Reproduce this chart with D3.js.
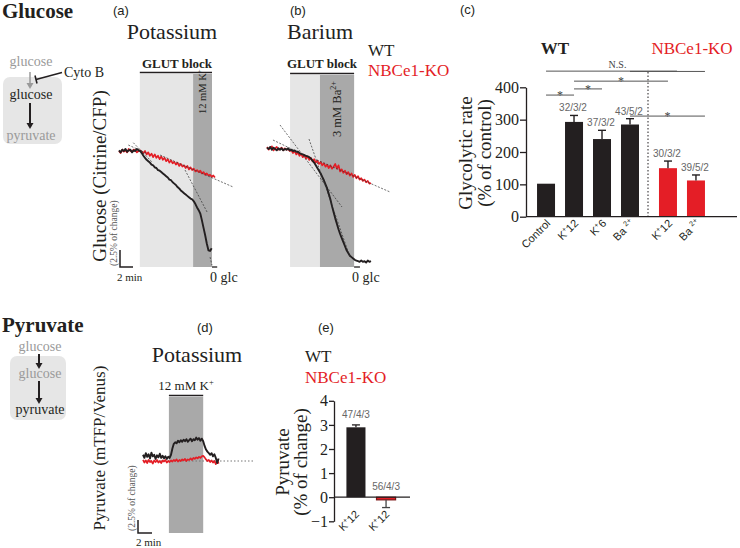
<!DOCTYPE html>
<html><head><meta charset="utf-8">
<script src="https://cdn.jsdelivr.net/npm/d3@7/dist/d3.min.js"></script>
<style>body{margin:0;background:#fff}svg{display:block}</style>
</head><body>
<script>
// ---------------- DATA ----------------
// (a) Glucose sensor trace, % change, sampled every 0.25 min
const dtGlc = 0.25;
const glucoseA_WT = [0.1,-0.2,0.2,0.0,0.3,-0.1,0.1,0.2,-0.2,0.1,0.0,0.3,0.1,0.0,-0.3,-0.7,-1.0,-1.3,-1.5,-1.7,-2.0,-2.1,-2.4,-2.5,-2.8,-2.9,-3.1,-3.3,-3.5,-3.7,-3.9,-4.2,-4.3,-4.6,-4.8,-5.0,-5.3,-5.5,-5.8,-6.0,-6.2,-6.4,-6.6,-6.8,-7.0,-7.1,-7.4,-7.8,-8.3,-8.7,-9.2,-10.2,-11.3,-12.4,-13.6,-14.6,-14.7,-14.3];
const glucoseA_KO = [0.0,-0.3,0.2,-0.1,0.1,-0.2,0.3,0.0,-0.1,0.2,0.1,-0.2,0.0,0.1,-0.1,-0.3,0.0,-0.5,-0.2,-0.7,-0.4,-0.9,-0.5,-1.0,-0.7,-1.2,-0.8,-1.3,-1.0,-1.5,-1.2,-1.7,-1.4,-1.8,-1.6,-2.0,-1.7,-2.2,-1.9,-2.3,-2.1,-2.5,-2.2,-2.7,-2.4,-2.8,-2.6,-3.0,-2.8,-3.1,-2.9,-3.3,-3.1,-3.5,-3.3,-3.6,-3.5,-3.8,-3.6,-3.9];
const glutBlockA = [3.2, 14.3];
const kStimA = [11.4, 14.3];
const fitLinesA = [[1.43,0.88,4.26,-0.34],[2.2,1.22,5.03,-1.57],[6.31,-0.59,17.54,-5.29],[10.15,-2.79,13.54,-8.97],[14.0,-15.6,14.3,-16.8]];
// (b)
const glucoseB_WT = [0.2,0.0,0.3,-0.1,0.2,0.0,-0.2,0.1,-0.1,0.1,-0.2,0.0,-0.1,0.1,-0.2,-0.1,-0.3,-0.2,-0.4,-0.4,-0.6,-0.7,-0.8,-0.9,-1.0,-1.1,-1.2,-1.4,-1.7,-2.0,-2.4,-2.8,-3.2,-3.6,-4.1,-4.6,-5.2,-5.8,-6.6,-7.4,-8.4,-9.3,-10.2,-11.0,-11.8,-12.5,-13.1,-13.7,-14.3,-14.9,-15.3,-15.7,-15.9,-16.1,-16.3,-16.4,-16.5,-16.6,-16.4,-16.6,-16.5,-16.7,-16.4,-16.6,-16.5];
const glucoseB_KO = [0.3,-0.1,0.2,0.4,-0.2,0.1,0.3,-0.1,0.0,0.2,-0.2,0.1,-0.1,0.0,-0.3,-0.2,-0.6,-0.3,-0.8,-0.5,-1.0,-0.7,-1.2,-0.9,-1.4,-1.1,-1.6,-1.3,-1.8,-1.5,-2.0,-1.7,-2.2,-1.9,-2.4,-2.1,-2.6,-2.3,-2.8,-2.4,-2.9,-2.6,-2.2,-2.9,-2.4,-3.3,-3.0,-3.5,-3.2,-3.7,-3.4,-3.9,-3.6,-4.1,-3.8,-4.3,-4.0,-4.5,-4.3,-4.7,-4.5,-4.9,-4.7,-5.1,-5.0];
const glutBlockB = [3.55, 13.4];
const baStimB = [8.15, 13.4];
const fitLinesB = [[2.0,3.53,11.54,-8.53],[0.92,1.32,5.08,-0.59],[6.46,1.47,12.77,-15.9],[7.69,-1.62,18.92,-6.32]];
// (c) Glycolytic rate
const rateCategories = ["Control","WT K12","WT K6","WT Ba","KO K12","KO Ba"];
const rateGroups = ["WT","WT","WT","WT","KO","KO"];
const rateValues = [102, 293, 240, 285, 150, 112];
const rateErrors = [0, 20, 27, 18, 22, 17];
const rateN = ["", "32/3/2", "37/3/2", "43/5/2", "30/3/2", "39/5/2"];
const rateTickLabels = [[["Control",0]],[["K",0],["+",1],["12",0]],[["K",0],["+",1],["6",0]],[["Ba ",0],["2+",1]],[["K",0],["+",1],["12",0]],[["Ba ",0],["2+",1]]];
const rateTicks = [0,100,200,300,400];
const rateSig = [["Control","KO K12",450,"N.S.",1],["WT Ba","KO Ba",449,"",1],["WT K12","KO K12",419,"*",0],["Control","WT K12",376,"*",0],["WT K12","WT K6",395,"*",0],["WT Ba","KO Ba",311,"*",1]];
// (d) Pyruvate trace, sampled every 0.2 min
const dtPyr = 0.2;
const pyruvateD_WT = [1.2,0.6,1.5,0.8,1.3,0.5,1.6,0.9,1.2,0.4,1.1,0.7,1.4,0.6,1.0,0.5,0.9,0.4,0.8,0.6,1.2,2.4,3.3,3.6,3.4,3.9,3.6,4.0,3.7,4.1,3.8,4.2,3.7,4.0,4.3,3.8,4.2,4.0,4.5,4.1,4.4,3.9,4.3,3.8,2.9,2.2,1.8,1.5,1.2,1.5,0.9,1.3,0.6,-0.4,0.5];
const pyruvateD_KO = [0.2,-0.3,0.1,-0.4,0.2,-0.2,0.0,-0.5,0.1,-0.2,0.2,-0.3,0.0,-0.4,0.1,-0.1,0.2,-0.3,0.0,-0.2,0.1,-0.1,0.2,0.0,0.3,-0.1,0.2,0.0,0.3,0.1,0.4,0.0,0.3,0.2,0.5,0.2,0.6,0.4,0.7,0.5,0.8,0.6,0.9,1.0,0.7,0.3,0.0,0.2,-0.2,0.1,-0.3,0.0,-0.6,0.2,-0.5];
const kStimD = [3.7, 8.6];
// (e) Pyruvate bars
const pyrCategories = ["WT K12","KO K12"];
const pyrValues = [2.9, -0.11];
const pyrErrors = [0.1, 0.32];
const pyrN = ["47/4/3","56/4/3"];
const pyrTicks = [-1,0,1,2,3,4];

// ---------------- DRAW ----------------
const BLACK="#231f20", RED="#e41e26", GRAY_L="#e6e6e6", GRAY_D="#a9a9a9";
const SERIF='"Liberation Serif","Times New Roman",serif', SANS='"Liberation Sans",Arial,sans-serif';
const svg = d3.select("body").append("svg").attr("width",740).attr("height",548);

function T(g,x,y,s,o={}){
  const t=g.append("text").attr("x",x).attr("y",y).text(s)
    .attr("font-family",o.ff||SERIF).attr("font-size",o.fs||14).attr("fill",o.fill||BLACK)
    .attr("text-anchor",o.anchor||"start");
  if(o.fw) t.attr("font-weight",o.fw);
  if(o.rot!=null) t.attr("transform",`rotate(${o.rot},${x},${y})`);
  return t;
}
function rich(g,x,y,parts,o={}){
  const fs=o.fs||12;
  const t=g.append("text").attr("font-family",o.ff||SERIF).attr("font-size",fs).attr("fill",o.fill||BLACK)
    .attr("text-anchor",o.anchor||"start")
    .attr("transform",`translate(${x},${y}) rotate(${o.rot||0})`);
  let up=false;
  parts.forEach(([s,sup])=>{
    const ts=t.append("tspan").text(s);
    if(sup){ts.attr("dy",-fs*0.4).attr("font-size",fs*0.65);up=true;}
    else if(up){ts.attr("dy",fs*0.4);up=false;}
  });
  return t;
}
function arrowV(g,x,y1,y2,col,w){
  g.append("line").attr("x1",x).attr("x2",x).attr("y1",y1).attr("y2",y2-4).attr("stroke",col).attr("stroke-width",w);
  g.append("path").attr("d",`M${x-3.5},${y2-6}L${x+3.5},${y2-6}L${x},${y2}Z`).attr("fill",col);
}

// Titles
T(svg,2,18,"Glucose",{fs:21,fw:"bold"});
T(svg,2,332,"Pyruvate",{fs:21,fw:"bold"});

// Top schematic
const s1=svg.append("g");
s1.append("rect").attr("x",3).attr("y",77).attr("width",59).attr("height",67).attr("rx",7).attr("fill",GRAY_L);
T(s1,31,66,"glucose",{fs:14,fill:"#9a9a9a",anchor:"middle"});
arrowV(s1,30,72,89,"#9a9a9a",1.5);
T(s1,31,99,"glucose",{fs:14,anchor:"middle"});
arrowV(s1,30,103,129,BLACK,2);
T(s1,31,140,"pyruvate",{fs:14,fill:"#9a9a9a",anchor:"middle"});
T(s1,64,77,"Cyto B",{fs:14});
s1.append("line").attr("x1",62).attr("y1",72.5).attr("x2",36).attr("y2",79.5).attr("stroke",BLACK).attr("stroke-width",1.4);
s1.append("line").attr("x1",35).attr("y1",75.5).attr("x2",37).attr("y2",83.5).attr("stroke",BLACK).attr("stroke-width",1.6);

// Bottom schematic
const s2=svg.append("g");
s2.append("rect").attr("x",10).attr("y",356).attr("width",56).attr("height",64).attr("rx",7).attr("fill",GRAY_L);
T(s2,40,351,"glucose",{fs:14,fill:"#9a9a9a",anchor:"middle"});
arrowV(s2,39,354,369,BLACK,2);
T(s2,40,378,"glucose",{fs:14,fill:"#9a9a9a",anchor:"middle"});
arrowV(s2,39,381,404,BLACK,2);
T(s2,40,414,"pyruvate",{fs:14,anchor:"middle"});

// Generic trace panel
function tracePanel(cfg){
  const g=svg.append("g");
  const x=d3.scaleLinear().domain(cfg.xd).range(cfg.xr);
  const y=d3.scaleLinear().domain(cfg.yd).range(cfg.yr);
  cfg.bands.forEach(b=>{
    g.append("rect").attr("x",x(b.t[0])).attr("width",x(b.t[1])-x(b.t[0]))
     .attr("y",cfg.top).attr("height",cfg.bottom-cfg.top).attr("fill",b.c);
  });
  if(cfg.barLine){
    g.append("line").attr("x1",x(cfg.barLine[0])).attr("x2",x(cfg.barLine[1]))
     .attr("y1",cfg.top-1.5).attr("y2",cfg.top-1.5).attr("stroke",BLACK).attr("stroke-width",1.5);
  }
  if(cfg.dotted){
    g.append("line").attr("x1",x(cfg.dotted[0])).attr("x2",x(cfg.dotted[1])).attr("y1",y(0)).attr("y2",y(0))
     .attr("stroke","#777").attr("stroke-width",1).attr("stroke-dasharray","1.5,2");
  }
  const line=d3.line().x((d,i)=>x(i*cfg.dt)).y(d=>y(d));
  g.append("path").datum(cfg.ko).attr("d",line).attr("fill","none").attr("stroke",RED).attr("stroke-width",1.7).attr("stroke-linejoin","round");
  g.append("path").datum(cfg.wt).attr("d",line).attr("fill","none").attr("stroke",BLACK).attr("stroke-width",1.9).attr("stroke-linejoin","round");
  (cfg.fits||[]).forEach(f=>{
    g.append("line").attr("x1",x(f[0])).attr("y1",y(f[1])).attr("x2",x(f[2])).attr("y2",y(f[3]))
     .attr("stroke","#333").attr("stroke-width",0.7).attr("stroke-dasharray","2,1.5");
  });
  return {g,x,y};
}

// (a)
T(svg,113,15,"(a)",{ff:SANS,fs:13});
T(svg,172,39,"Potassium",{fs:22,anchor:"middle",fill:"#222"});
const pa=tracePanel({xd:[0,14.3],xr:[119,212],yd:[0,-17],yr:[151,266.6],dt:dtGlc,wt:glucoseA_WT,ko:glucoseA_KO,
  top:74,bottom:267,bands:[{t:glutBlockA,c:GRAY_L},{t:kStimA,c:GRAY_D}],barLine:glutBlockA,fits:fitLinesA});
T(svg,177,68,"GLUT block",{fs:13,fw:"bold",anchor:"middle"});
rich(svg,206,114,[["12 mM K",0],["+",1]],{fs:10.5,rot:-90});
// scale bar (a)
{
  const x0=120,y0=267, wx=pa.x(2)-pa.x(0), hy=pa.y(-2.5)-pa.y(0);
  svg.append("path").attr("d",`M${x0},${y0-hy}V${y0}H${x0+wx}`).attr("fill","none").attr("stroke",BLACK).attr("stroke-width",1.5);
  T(svg,117,281,"2 min",{fs:11});
  T(svg,117,266,"(2.5% of change)",{fs:9.5,fill:"#555",rot:-90});
  svg.append("line").attr("x1",pa.x(14.3)).attr("x2",pa.x(15.1)).attr("y1",267).attr("y2",267).attr("stroke",BLACK).attr("stroke-width",1.3);
  T(svg,210,282,"0 glc",{fs:14});
}
T(svg,106,176,"Glucose (Citrine/CFP)",{fs:19,anchor:"middle",rot:-90});

// (b)
T(svg,290,15,"(b)",{ff:SANS,fs:13});
T(svg,287,39,"Barium",{fs:22,fill:"#222"});
const pb=tracePanel({xd:[0,16],xr:[267,371],yd:[0,-17],yr:[149,264.6],dt:dtGlc,wt:glucoseB_WT,ko:glucoseB_KO,
  top:75,bottom:267,bands:[{t:glutBlockB,c:GRAY_L},{t:baStimB,c:GRAY_D}],barLine:glutBlockB,fits:fitLinesB});
T(svg,322,68,"GLUT block",{fs:13,fw:"bold",anchor:"middle"});
rich(svg,341,137,[["3 mM Ba",0],["2+",1]],{fs:12.5,rot:-90});
svg.append("line").attr("x1",pb.x(13.4)).attr("x2",pb.x(14.3)).attr("y1",267).attr("y2",267).attr("stroke",BLACK).attr("stroke-width",1.3);
T(svg,352,282,"0 glc",{fs:14});
// legend top
T(svg,368,56,"WT",{fs:17});
T(svg,368,76,"NBCe1-KO",{fs:17,fill:RED});

// (c)
T(svg,460,14,"(c)",{ff:SANS,fs:13});
T(svg,555,54,"WT",{fs:17,fw:"bold",anchor:"middle"});
T(svg,692,54,"NBCe1-KO",{fs:17,fill:RED,anchor:"middle"});
{
  const g=svg.append("g");
  const koShift=10;
  const xb=d3.scaleBand().domain(rateCategories).range([532,700]).paddingInner(0.357).paddingOuter(0.18);
  const cx=c=>xb(c)+xb.bandwidth()/2+(rateGroups[rateCategories.indexOf(c)]==="KO"?koShift:0);
  const y=d3.scaleLinear().domain([0,400]).range([216.7,87.3]);
  // dotted separator
  g.append("line").attr("x1",648).attr("x2",648).attr("y1",72).attr("y2",y(0)).attr("stroke",BLACK).attr("stroke-width",1).attr("stroke-dasharray","1.5,2");
  // sig lines
  rateSig.forEach(([a,b,lv,lab,ext])=>{
    const x1=cx(a), x2=cx(b)+(ext?xb.bandwidth()/2:0);
    g.append("line").attr("x1",x1).attr("x2",x2).attr("y1",y(lv)).attr("y2",y(lv)).attr("stroke","#555").attr("stroke-width",1);
    if(lab) T(g,(x1+x2)/2+(lab==="N.S."?6:0),y(lv)+(lab==="*"?4:-3),lab,{fs:lab==="*"?12:10,anchor:"middle",fill:"#444"});
  });
  // bars
  rateCategories.forEach((c,i)=>{
    const col=rateGroups[i]==="KO"?RED:BLACK;
    const x0=cx(c)-xb.bandwidth()/2;
    g.append("rect").attr("x",x0).attr("width",xb.bandwidth()).attr("y",y(rateValues[i])).attr("height",y(0)-y(rateValues[i])).attr("fill",col);
    if(rateErrors[i]>0){
      const yt=y(rateValues[i]+rateErrors[i]);
      g.append("line").attr("x1",cx(c)).attr("x2",cx(c)).attr("y1",y(rateValues[i])).attr("y2",yt).attr("stroke",BLACK).attr("stroke-width",1.4);
      g.append("line").attr("x1",cx(c)-4).attr("x2",cx(c)+4).attr("y1",yt).attr("y2",yt).attr("stroke",BLACK).attr("stroke-width",1.4);
    }
    if(rateN[i]) T(g,cx(c)-1,y(rateValues[i]+rateErrors[i])-4,rateN[i],{ff:SANS,fs:10,fill:"#666",anchor:"middle"});
    rich(g,cx(c)+5,224,rateTickLabels[i],{ff:SANS,fs:11,anchor:"end",rot:-45});
  });
  // axes
  const ya=g.append("g").attr("transform","translate(526,0)").call(d3.axisLeft(y).tickValues(rateTicks).tickSize(6).tickSizeOuter(0).tickPadding(1));
  ya.selectAll("text").attr("font-family",SERIF).attr("font-size",16).attr("fill",BLACK);
  ya.selectAll("line,path").attr("stroke",BLACK).attr("stroke-width",1.3);
  g.append("line").attr("x1",526).attr("x2",737).attr("y1",y(0)).attr("y2",y(0)).attr("stroke",BLACK).attr("stroke-width",1.3);
  T(g,472,153,"Glycolytic rate",{fs:19,anchor:"middle",rot:-90});
  T(g,491,153,"(% of control)",{fs:19,anchor:"middle",rot:-90});
}

// (d)
T(svg,197,332,"(d)",{ff:SANS,fs:13});
T(svg,197,362,"Potassium",{fs:22,anchor:"middle",fill:"#222"});
const pd=tracePanel({xd:[0,11],xr:[143,220],yd:[0,4],yr:[461,440.2],dt:dtPyr,wt:pyruvateD_WT,ko:pyruvateD_KO,
  top:397,bottom:533,bands:[{t:kStimD,c:GRAY_D}],barLine:kStimD,dotted:[0,16]});
rich(svg,186,390,[["12 mM K",0],["+",1]],{fs:13,anchor:"middle"});
{
  const x0=138,y0=533, wx=pd.x(2)-pd.x(0), hy=pd.y(0)-pd.y(2.5);
  svg.append("path").attr("d",`M${x0},${y0-hy}V${y0}H${x0+wx}`).attr("fill","none").attr("stroke",BLACK).attr("stroke-width",1.5);
  T(svg,136,546,"2 min",{fs:11});
  T(svg,135,531,"(2.5% of change)",{fs:9.5,fill:"#555",rot:-90});
}
T(svg,105,448,"Pyruvate (mTFP/Venus)",{fs:17,anchor:"middle",rot:-90});

// (e)
T(svg,318,332,"(e)",{ff:SANS,fs:13});
T(svg,305,362,"WT",{fs:17});
T(svg,305,383,"NBCe1-KO",{fs:17,fill:RED});
{
  const g=svg.append("g");
  const xb=d3.scaleBand().domain(pyrCategories).range([341,401]).paddingInner(0.367).paddingOuter(0.18);
  const y=d3.scaleLinear().domain([-1,4]).range([521.3,400.8]);
  pyrCategories.forEach((c,i)=>{
    const v=pyrValues[i], e=pyrErrors[i], cx=xb(c)+xb.bandwidth()/2;
    const neg=v<0;
    g.append("rect").attr("x",xb(c)).attr("width",xb.bandwidth()).attr("y",y(Math.max(v,0))).attr("height",Math.abs(y(v)-y(0)))
      .attr("fill",neg?RED:BLACK).attr("stroke",neg?"#7a1515":BLACK).attr("stroke-width",neg?1.2:0);
    const ye=y(neg?v-e:v+e);
    g.append("line").attr("x1",cx).attr("x2",cx).attr("y1",y(v)).attr("y2",ye).attr("stroke",neg?"#444":BLACK).attr("stroke-width",1.3);
    g.append("line").attr("x1",cx-4).attr("x2",cx+4).attr("y1",ye).attr("y2",ye).attr("stroke",neg?"#444":BLACK).attr("stroke-width",1.3);
    T(g,cx,(neg?y(0):ye)-7,pyrN[i],{ff:SANS,fs:10,fill:"#666",anchor:"middle"});
    rich(g,cx+4,515,[["K",0],["+",1],["12",0]],{ff:SANS,fs:11,anchor:"end",rot:-45});
  });
  const ya=g.append("g").attr("transform","translate(334,0)").call(d3.axisLeft(y).tickValues(pyrTicks).tickSize(5).tickSizeOuter(0).tickPadding(1)
      .tickFormat(d=>d<0?"\u2212"+Math.abs(d):d));
  ya.selectAll("text").attr("font-family",SERIF).attr("font-size",16).attr("fill",BLACK);
  ya.selectAll("line,path").attr("stroke",BLACK).attr("stroke-width",1.3);
  g.append("line").attr("x1",334).attr("x2",410).attr("y1",y(0)).attr("y2",y(0)).attr("stroke",BLACK).attr("stroke-width",1.3);
  T(g,289,462,"Pyruvate",{fs:19,anchor:"middle",rot:-90});
  T(g,307,462,"(% of change)",{fs:19,anchor:"middle",rot:-90});
}
</script>
</body></html>
